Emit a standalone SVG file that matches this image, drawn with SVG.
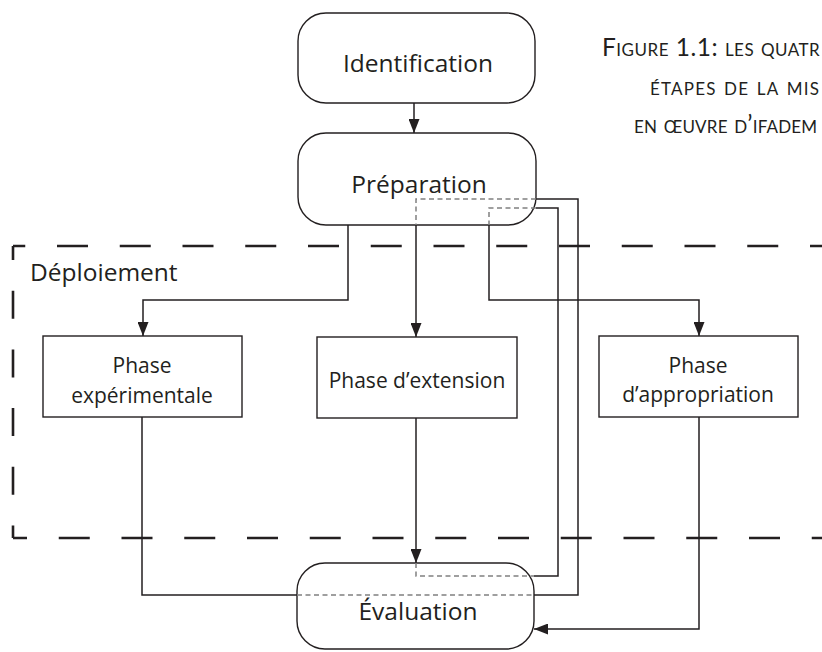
<svg xmlns="http://www.w3.org/2000/svg" width="822" height="652" viewBox="0 0 822 652">
<style>
  .bg{fill:#ffffff}
  .rnode{fill:#ffffff;stroke:#231f20;stroke-width:1.4}
  .pnode{fill:#ffffff;stroke:#231f20;stroke-width:1.4}
  .t{font-family:"Open Sans","Noto Sans",sans-serif;fill:#231f20;text-anchor:middle}
  .big{font-size:24.5px}
  .small{font-size:21px}
  .cap{font-family:Lato,"Open Sans",sans-serif;font-size:24.5px;font-variant:small-caps;fill:#231f20;letter-spacing:0.2px}
  .conn{fill:none;stroke:#231f20;stroke-width:1.5}
  .hid{fill:none;stroke:#808080;stroke-width:1.5;stroke-dasharray:5 3.5}
  .bound{fill:none;stroke:#231f20;stroke-width:2.6}
</style>
<defs>
  <marker id="arr" markerUnits="userSpaceOnUse" markerWidth="14" markerHeight="11" refX="14" refY="5.5" orient="auto">
    <path d="M0,0 L14,5.5 L0,11 Z" fill="#231f20"/>
  </marker>
</defs>
<rect class="bg" x="0" y="0" width="822" height="652"/>

<g id="deploiement">
  <path class="bound" d="M13,246 H830" stroke-dasharray="31 31.75" stroke-dashoffset="18.75"/>
  <path class="bound" d="M13,538 H830" stroke-dasharray="31 31.75" stroke-dashoffset="17"/>
  <path class="bound" d="M13,246 V538" stroke-dasharray="28 30.7" stroke-dashoffset="14"/>
  <text class="t big" x="30" y="281" style="text-anchor:start">Déploiement</text>
</g>

<g id="caption">
  <text class="cap" x="602" y="56" style="letter-spacing:0.5px">Figure 1.1: les quatr</text>
  <text class="cap" x="650" y="95" style="letter-spacing:1.2px">étapes de la mis</text>
  <text class="cap" x="634" y="133">en œuvre d’ifadem</text>
</g>

<g id="identification">
  <rect class="rnode" x="298" y="13" width="237" height="90" rx="28" ry="28"/>
  <text class="t big" x="418" y="72">Identification</text>
</g>
<g id="preparation">
  <rect class="rnode" x="298" y="133" width="238" height="92" rx="28" ry="28"/>
  <text class="t big" x="419" y="193">Préparation</text>
</g>
<g id="phase-experimentale">
  <rect class="pnode" x="43" y="336" width="199" height="81"/>
  <text class="t small" x="142" y="373">Phase</text>
  <text class="t small" x="142" y="403">expérimentale</text>
</g>
<g id="phase-extension">
  <rect class="pnode" x="317" y="337" width="200" height="81"/>
  <text class="t small" x="417" y="388">Phase d’extension</text>
</g>
<g id="phase-appropriation">
  <rect class="pnode" x="599" y="336" width="199" height="81"/>
  <text class="t small" x="698" y="373">Phase</text>
  <text class="t small" x="698" y="402">d’appropriation</text>
</g>
<g id="evaluation">
  <rect class="rnode" x="297" y="563" width="237" height="86" rx="28" ry="28"/>
  <text class="t big" x="418" y="620">Évaluation</text>
</g>

<g id="connectors">
  <path class="conn" d="M414,103 V133" marker-end="url(#arr)"/>
  <path class="conn" d="M348,225 V300 H143 V336" marker-end="url(#arr)"/>
  <path class="conn" d="M416,225 V337" marker-end="url(#arr)"/>
  <path class="conn" d="M489,225 V300 H699 V336" marker-end="url(#arr)"/>
  <path class="conn" d="M416,418 V563" marker-end="url(#arr)"/>
  <path class="conn" d="M699,417 V629 H534" marker-end="url(#arr)"/>
  <path class="conn" d="M142,417 V595 H297"/>
  <path class="hid" d="M297,595 H534"/>
  <path class="conn" d="M534,595 H578 V199 H536"/>
  <path class="hid" d="M536,199 H416 V225"/>
  <path class="hid" d="M416,563 V576 H534"/>
  <path class="conn" d="M534,576 H558 V208 H536"/>
  <path class="hid" d="M536,208 H489 V225"/>
</g>
</svg>
